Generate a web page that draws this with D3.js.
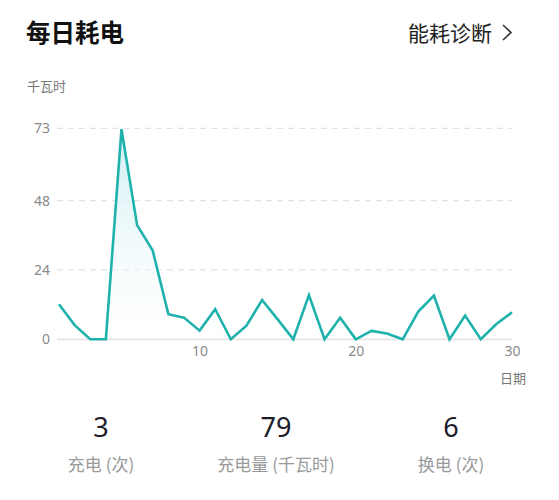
<!DOCTYPE html>
<html><head><meta charset="utf-8">
<script src="https://cdn.jsdelivr.net/npm/d3@7/dist/d3.min.js"></script>
<style>
html,body{margin:0;padding:0;background:#fff;}
svg{display:block;font-family:"Noto Sans CJK SC","Noto Sans",sans-serif;}
</style></head>
<body>
<svg id="c" width="559" height="500"></svg>
<script>
const days = d3.range(1, 31);
const energy = [12.1, 4.9, 0, 0, 72.7, 39.5, 30.7, 8.7, 7.5, 3.0,
                10.4, 0, 4.7, 13.6, 6.9, 0, 15.3, 0, 7.5, 0,
                2.9, 2.0, 0, 9.6, 15.1, 0, 8.2, 0, 5.3, 9.3];
const yTicks = [0, 24, 48, 73];
const xTicks = [10, 20, 30];
const statValues = ["3", "79", "6"];
const statLabels = ["充电 (次)", "充电量 (千瓦时)", "换电 (次)"];

const svg = d3.select("#c");
const x = d3.scaleLinear().domain([1, 30]).range([59, 512]);
const y = d3.scaleLinear().domain([0, 73]).range([339.3, 128.3]);

// header
svg.append("text").attr("x", 26).attr("y", 42).attr("font-size", 24.5).attr("font-weight", 700)
  .attr("fill", "#111").text("每日耗电");
svg.append("text").attr("x", 408).attr("y", 41).attr("font-size", 21).attr("fill", "#222")
  .text("能耗诊断");
svg.append("path").attr("d", "M503,25 L511,32.5 L503,40").attr("fill", "none")
  .attr("stroke", "#333").attr("stroke-width", 1.6);
svg.append("text").attr("x", 27).attr("y", 91).attr("font-size", 13).attr("fill", "#777")
  .text("千瓦时");

// grid
const g = svg.append("g");
g.selectAll("line.grid").data(yTicks).join("line")
  .attr("x1", 57).attr("x2", 512)
  .attr("y1", d => y(d)).attr("y2", d => y(d))
  .attr("stroke", d => d === 0 ? "#e4e4e4" : "#e2e2e2")
  .attr("stroke-width", d => d === 0 ? 2 : 1.2)
  .attr("stroke-dasharray", d => d === 0 ? null : "6,5");

// y axis labels
const yAxis = d3.axisLeft(y).tickValues(yTicks).tickSize(0).tickPadding(0);
const ya = svg.append("g").attr("transform", "translate(50,0)").call(yAxis);
ya.select(".domain").remove();
ya.selectAll("text").attr("font-size", 14).attr("fill", "#8a8a8a")
  .attr("font-family", "'Noto Sans',sans-serif");

// x axis labels
const xAxis = d3.axisBottom(x).tickValues(xTicks).tickSize(0).tickPadding(0);
const xa = svg.append("g").attr("transform", "translate(0,346)").call(xAxis);
xa.select(".domain").remove();
xa.selectAll("text").attr("font-size", 14).attr("fill", "#8a8a8a")
  .attr("font-family", "'Noto Sans',sans-serif");
svg.append("text").attr("x", 513).attr("y", 383).attr("text-anchor", "middle")
  .attr("font-size", 13).attr("fill", "#777").text("日期");

// area gradient
const defs = svg.append("defs");
const grad = defs.append("linearGradient").attr("id", "ag").attr("x1", 0).attr("y1", 0).attr("x2", 0).attr("y2", 1);
grad.append("stop").attr("offset", "0%").attr("stop-color", "#cfeef3").attr("stop-opacity", 1);
grad.append("stop").attr("offset", "100%").attr("stop-color", "#ffffff").attr("stop-opacity", 0.3);

const data = days.map((d, i) => ({d, v: energy[i]}));
svg.append("path").datum(data)
  .attr("fill", "url(#ag)")
  .attr("d", d3.area().x(p => x(p.d)).y0(y(0)).y1(p => y(p.v)));
svg.append("path").datum(data)
  .attr("fill", "none").attr("stroke", "#1fb2ac").attr("stroke-width", 2.6)
  .attr("stroke-linejoin", "miter")
  .attr("d", d3.line().x(p => x(p.d)).y(p => y(p.v)));

// stats
const statX = [101, 276, 451];
const sg = svg.selectAll("g.stat").data(statValues).join("g").attr("class", "stat");
sg.append("text").attr("x", (d, i) => statX[i]).attr("y", 437).attr("text-anchor", "middle")
  .attr("font-size", 27).attr("fill", "#1c1c2a").attr("font-family", "'Noto Sans',sans-serif")
  .text(d => d);
sg.append("text").attr("x", (d, i) => statX[i]).attr("y", 471).attr("text-anchor", "middle")
  .attr("font-size", 17).attr("fill", "#999").text((d, i) => statLabels[i]);
</script>
</body></html>
